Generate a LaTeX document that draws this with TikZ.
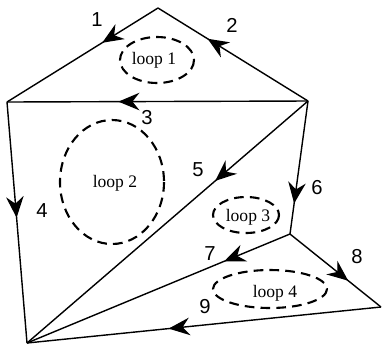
\documentclass[tikz,border=0pt]{standalone}
\usepackage{fontspec}
\setmainfont{Liberation Serif}
\newfontfamily\numfont{Liberation Sans}
\usepackage{tikz}
\usetikzlibrary{arrows.meta,decorations.markings}
\tikzset{
  edge/.style={draw=black, line width=0.8pt},
  flow/.style={edge, postaction={decorate}, decoration={markings,
      mark=at position #1 with {\arrow{Stealth[length=12pt,width=10pt,inset=4pt]}}}},
  loopring/.style={draw=black, line width=1.2pt, dash pattern=on 5.5pt off 3.5pt},
  num/.style={font=\numfont\fontsize{11.5}{13}\selectfont, inner sep=1pt},
  looplbl/.style={font=\fontsize{10}{12}\selectfont, inner sep=1pt}
}

\begin{document}
\begin{tikzpicture}[x=0.02cm, y=-0.02cm]
    \useasboundingbox (0,0) rectangle (382,346);
    % vertices
    \coordinate (a) at (158,8);
    \coordinate (b) at (7,102);
    \coordinate (c) at (308,101);
    \coordinate (d) at (27,343);
    \coordinate (e) at (290,234);
    \coordinate (f) at (381,307);
    % branches
    \draw[flow=0.37] (a)--(b);
    \draw[flow=0.67] (c)--(a);
    \draw[flow=0.63] (c)--(b);
    \draw[flow=0.48] (b)--(d);
    \draw[flow=0.33] (c)--(d);
    \draw[flow=0.77] (c)--(e);
    \draw[flow=0.25] (e)--(d);
    \draw[flow=0.64] (e)--(f);
    \draw[flow=0.60] (f)--(d);
    % branch numbers
    \node[num] (n1) at (97,20) {1};
    \node[num] (n2) at (232,25) {2};
    \node[num] (n3) at (147,118) {3};
    \node[num] (n4) at (42,211) {4};
    \node[num] (n5) at (198,170) {5};
    \node[num] (n6) at (317,188) {6};
    \node[num] (n7) at (210,254) {7};
    \node[num] (n8) at (357,257) {8};
    \node[num] (n9) at (205,307) {9};
    % loops
    \draw[loopring] (157,60) ellipse (37 and 23);
    \draw[loopring] (112,182) ellipse (52 and 62);
    \draw[loopring] (246,215) ellipse (33 and 18);
    \draw[loopring] (270,289) ellipse (57 and 19);
    \node[looplbl] (l1) at (154,60) {loop 1};
    \node[looplbl] (l2) at (115,183) {loop 2};
    \node[looplbl] (l3) at (248,217) {loop 3};
    \node[looplbl] (l4) at (275,293) {loop 4};
\end{tikzpicture}
\end{document}
